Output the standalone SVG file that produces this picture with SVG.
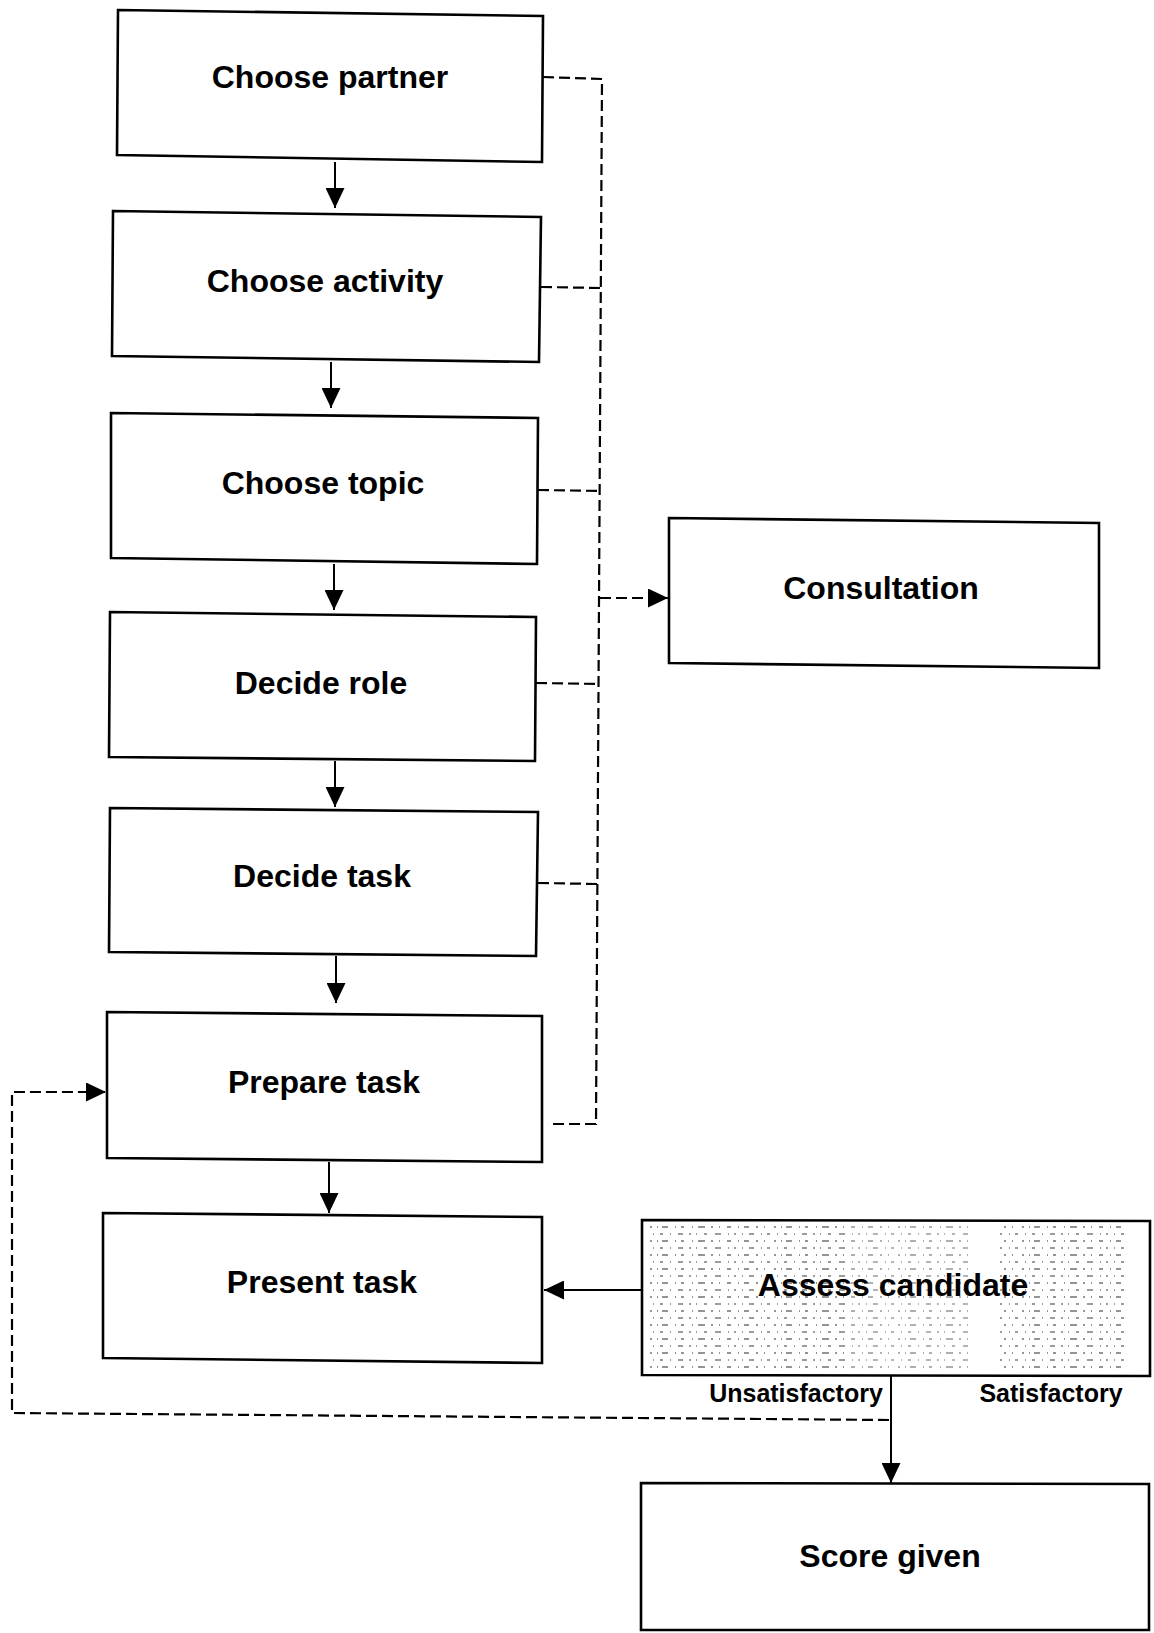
<svg xmlns="http://www.w3.org/2000/svg" width="1154" height="1633" viewBox="0 0 1154 1633">
  <style>
    .box { fill: #ffffff; stroke: #000000; stroke-width: 2.6; stroke-linejoin: miter; }
    .label { font-family: "Liberation Sans", Arial, sans-serif; font-weight: bold; font-size: 32px; fill: #000000; text-anchor: middle; }
    .small { font-family: "Liberation Sans", Arial, sans-serif; font-weight: bold; font-size: 25px; fill: #000000; text-anchor: middle; }
    .flow { fill: none; stroke: #000000; stroke-width: 2; }
    .dash { fill: none; stroke: #000000; stroke-width: 2.2; stroke-dasharray: 11 5; }
    .shade { fill: url(#halftone); }
  </style>
  <defs>
    <marker id="head" markerUnits="userSpaceOnUse" markerWidth="20" markerHeight="19" refX="20" refY="9.5" orient="auto">
      <path d="M0,0 L20,9.5 L0,19 Z" fill="#000000"/>
    </marker>
    <!-- sparse grey screen used as the shading of the assessment box -->
    <pattern id="halftone" patternUnits="userSpaceOnUse" x="648" y="1224" width="124" height="14">
      <path d="M2,3 h2 M9,3 h1 M14,3 h6 M27,3 h1 M33,3 h3 M44,3 h1 M50,3 h7 M63,3 h2 M71,3 h1 M79,3 h4 M90,3 h1 M96,3 h5 M108,3 h2 M116,3 h1"
            stroke="#2a2a2a" stroke-width="1.2"/>
      <path d="M5,10 h1 M12,10 h3 M22,10 h1 M30,10 h5 M41,10 h2 M48,10 h1 M56,10 h3 M67,10 h6 M80,10 h1 M86,10 h2 M94,10 h1 M101,10 h5 M113,10 h1 M119,10 h3"
            stroke="#3a3a3a" stroke-width="1.2"/>
    </pattern>
  </defs>

  <!-- connectors -->
  <g id="connectors">
    <!-- main sequence -->
    <line class="flow" x1="335" y1="162" x2="335" y2="208" marker-end="url(#head)"/>
    <line class="flow" x1="331" y1="362" x2="331" y2="408" marker-end="url(#head)"/>
    <line class="flow" x1="334" y1="564" x2="334" y2="610" marker-end="url(#head)"/>
    <line class="flow" x1="335" y1="761" x2="335" y2="807" marker-end="url(#head)"/>
    <line class="flow" x1="336" y1="956" x2="336" y2="1003" marker-end="url(#head)"/>
    <line class="flow" x1="329" y1="1162" x2="329" y2="1213" marker-end="url(#head)"/>

    <!-- consultation bus -->
    <path class="dash" d="M543,77 L602,79 L596,1124 L548,1124"/>
    <line class="dash" x1="541" y1="287" x2="601" y2="288"/>
    <line class="dash" x1="538" y1="490" x2="600" y2="491"/>
    <line class="dash" x1="536" y1="683" x2="599" y2="684"/>
    <line class="dash" x1="538" y1="883" x2="598" y2="884"/>
    <line class="dash" x1="600" y1="598" x2="668" y2="598" marker-end="url(#head)"/>

    <!-- assessment outcomes -->
    <line class="flow" x1="642" y1="1290" x2="544" y2="1290" marker-end="url(#head)"/>
    <line class="flow" x1="891" y1="1376" x2="891" y2="1483" marker-end="url(#head)"/>
    <path class="dash" d="M889,1420 L12,1413 L12,1092 L106,1092" marker-end="url(#head)"/>
  </g>

  <g id="choose-partner">
    <polygon class="box" points="118,10 543,16 542,162 117,155"/>
    <text class="label" x="330" y="88">Choose partner</text>
  </g>
  <g id="choose-activity">
    <polygon class="box" points="113,211 541,217 539,362 112,356"/>
    <text class="label" x="325" y="292">Choose activity</text>
  </g>
  <g id="choose-topic">
    <polygon class="box" points="111,413 538,418 537,564 111,558"/>
    <text class="label" x="323" y="494">Choose topic</text>
  </g>
  <g id="decide-role">
    <polygon class="box" points="110,612 536,617 535,761 109,757"/>
    <text class="label" x="321" y="694">Decide role</text>
  </g>
  <g id="decide-task">
    <polygon class="box" points="110,808 538,812 536,956 109,952"/>
    <text class="label" x="322" y="887">Decide task</text>
  </g>
  <g id="prepare-task">
    <polygon class="box" points="107,1012 542,1016 542,1162 107,1158"/>
    <text class="label" x="324" y="1093">Prepare task</text>
  </g>
  <g id="present-task">
    <polygon class="box" points="103,1213 542,1217 542,1363 103,1358"/>
    <text class="label" x="322" y="1293">Present task</text>
  </g>
  <g id="consultation">
    <polygon class="box" points="669,518 1099,523 1099,668 669,663"/>
    <text class="label" x="881" y="599">Consultation</text>
  </g>
  <g id="assess-candidate">
    <polygon class="box" points="642,1220 1150,1221 1150,1376 642,1375"/>
    <rect class="shade" x="650" y="1224" width="196" height="148"/>
    <rect class="shade" x="850" y="1224" width="118" height="148" opacity="0.75"/>
    <rect class="shade" x="1000" y="1224" width="124" height="148"/>
    <text class="label" x="893" y="1296">Assess candidate</text>
    <text class="small" x="796" y="1402">Unsatisfactory</text>
    <text class="small" x="1051" y="1402">Satisfactory</text>
  </g>
  <g id="score-given">
    <polygon class="box" points="641,1483 1149,1484 1149,1630 641,1630"/>
    <text class="label" x="890" y="1567">Score given</text>
  </g>
</svg>
